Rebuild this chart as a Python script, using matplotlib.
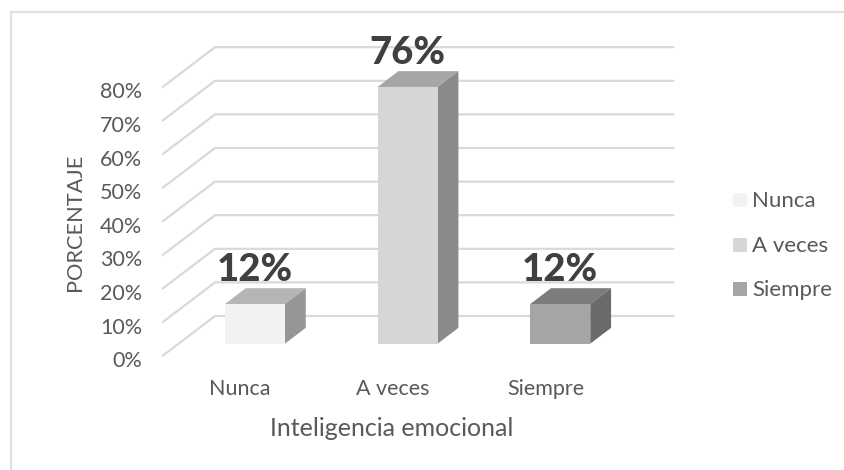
import matplotlib
matplotlib.use("Agg")
import matplotlib.pyplot as plt
from matplotlib.patches import Polygon, Rectangle

plt.rcParams['font.family'] = ['Lato', 'DejaVu Sans']

categories = ["Nunca", "A veces", "Siempre"]
values = [11.8, 76.4, 11.8]
y_ticks = [0, 10, 20, 30, 40, 50, 60, 70, 80]

front_colors = ["#f2f2f2", "#d6d6d6", "#a5a5a5"]
top_colors = ["#b5b5b5", "#a6a6a6", "#7c7c7c"]
side_colors = ["#969696", "#8a8a8a", "#6a6a6a"]

TEXT = "#595959"
GRID = "#d9d9d9"

W, H = 845, 470
# one category is 152.67 px, one percent is 3.36 px
PX = 152.67
PY = 3.36
# depth of the floor in data units
DX = 52 / PX
DY = 39.5 / PY
BAR_W = 60 / PX


def project(x, y, d):
    return x + d * DX, y + d * DY


def draw_box(ax, x, h, d0, d1, front, top, side):
    xl, xr = x - BAR_W / 2, x + BAR_W / 2
    corners = lambda pts: [project(px, py, d) for px, py, d in pts]
    ax.add_patch(Polygon(corners([(xl, h, d0), (xr, h, d0), (xr, h, d1), (xl, h, d1)]), fc=top, ec="none", zorder=3))
    ax.add_patch(Polygon(corners([(xr, 0, d0), (xr, h, d0), (xr, h, d1), (xr, 0, d1)]), fc=side, ec="none", zorder=3))
    ax.add_patch(Polygon(corners([(xl, 0, d0), (xr, 0, d0), (xr, h, d0), (xl, h, d0)]), fc=front, ec="none", zorder=4))


fig = plt.figure(figsize=(W / 100, H / 100), dpi=100)
ax = fig.add_axes([0, 0, 1, 1])
x0 = -0.5 - 163 / PX
ax.set_xlim(x0, x0 + W / PX)
y0 = -(H - 355.5) / PY
ax.set_ylim(y0, y0 + H / PY)
ax.axis("off")

to_data = lambda px, py: (x0 + px / PX, y0 + (H - py) / PY)

# only the top and left edges of the frame are in the picture
ax.plot(*zip(to_data(11, H), to_data(11, 11.5), to_data(W, 11.5)), color="#e0e0e0", lw=1.6, zorder=0, solid_joinstyle="miter")

for t in y_ticks:
    bx, by = project(-0.5, t, 1)
    ax.plot([-0.5, bx, bx + 3], [t, by, by], color=GRID, lw=1.6, zorder=1, solid_joinstyle="miter")
    ax.text(-0.5 - 21 / PX, t - 1.7, f"{t}%", ha="right", va="center", color=TEXT, fontsize=15.5)

for i, (v, cat) in enumerate(zip(values, categories)):
    draw_box(ax, i, v, 0.3, 0.7, front_colors[i], top_colors[i], side_colors[i])
    lx, ly = project(i, v, 0.7)
    ax.text(project(i, 0, 0.3)[0], ly + 2.1, f"{v:.0f}%", ha="center", va="baseline", color="#404040", fontsize=27.5, fontweight="black", zorder=5)
    ax.text(i + 0.005, -10.0, cat, ha="center", va="center", color=TEXT, fontsize=15.5)

ax.text(1.0, -21.8, "Inteligencia emocional", ha="center", va="center", color=TEXT, fontsize=18)
ax.text(-0.5 - 88 / PX, 39.7, "PORCENTAJE", rotation=90, ha="center", va="center", color=TEXT, fontsize=15.7)

# legend
legend_y = [200, 245, 289]
for i, (cat, col) in enumerate(zip(categories, front_colors)):
    lx, ly = to_data(740, legend_y[i])
    ax.add_patch(Rectangle((lx - 7 / PX, ly - 7 / PY), 14 / PX, 14 / PY, fc=col, ec="none"))
    ax.text(lx + 12 / PX, ly - 1.5 / PY, cat, ha="left", va="center", color=TEXT, fontsize=16)

fig.savefig("out.png", dpi=100)
